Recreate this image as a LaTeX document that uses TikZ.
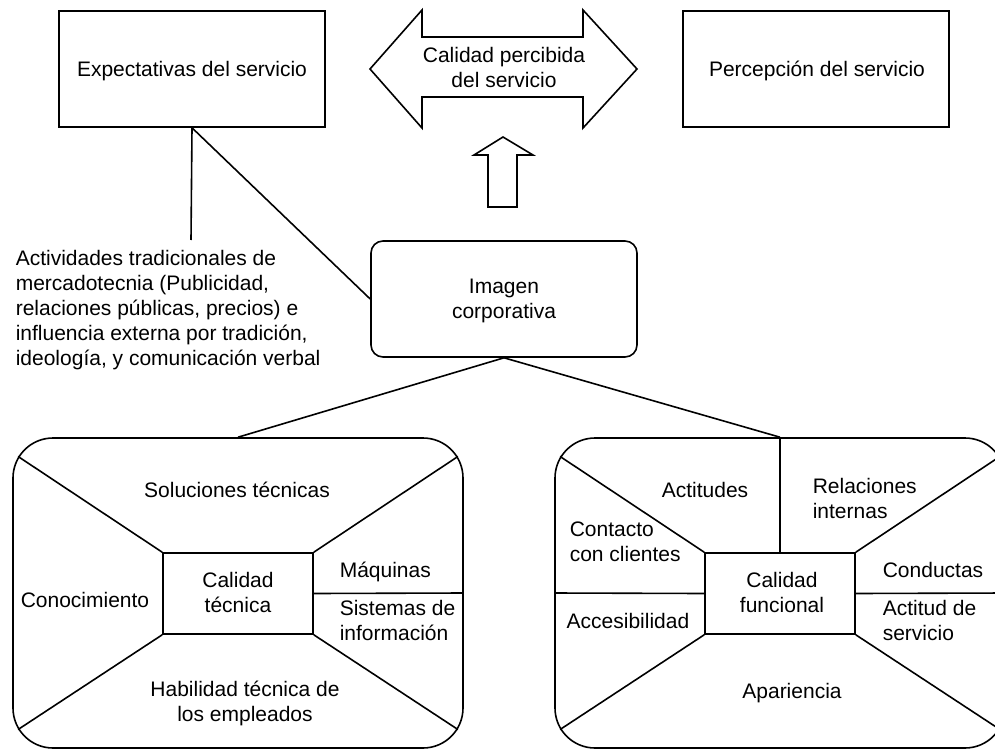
\documentclass[tikz,border=0pt]{standalone}
\usepackage{fontspec}
\setmainfont{Liberation Sans}
\begin{document}
\begin{tikzpicture}[x=1pt, y=-1pt, line width=1.6pt,
  txt/.style={font=\fontsize{21}{25}\selectfont, align=center, inner sep=0pt,
    execute at begin node=\strut, execute at end node=\strut},
  ltxt/.style={txt, align=left, anchor=west},
  plainbox/.style={draw, rectangle, inner sep=0pt, minimum width=266pt, minimum height=116pt},
  areabox/.style={draw, rectangle, rounded corners=40pt, inner sep=0pt, minimum width=450pt, minimum height=310pt},
  corebox/.style={draw, rectangle, inner sep=0pt, minimum width=150pt, minimum height=81pt}]
\useasboundingbox (0,0) rectangle (995,749);
\clip (0,0) rectangle (995,749);

% --- top row: expectations, perceived quality, perception ---
\node[plainbox] (exp) at (192,69) {};
\node[txt] (expT) at (192,72) {Expectativas del servicio};
\node[plainbox] (per) at (816,69) {};
\node[txt] (perT) at (817,72) {Percepción del servicio};

\draw (370,69) -- (422,10) -- (422,37) -- (583,37) -- (583,10) -- (637,69)
      -- (583,128) -- (583,97) -- (422,97) -- (422,128) -- cycle;
\node[txt] (cpT) at (504,71) {Calidad percibida\\del servicio};

% upward arrow from corporate image
\draw (503,137) -- (533,155) -- (517,155) -- (517,207) -- (488,207)
      -- (488,155) -- (474,155) -- cycle;

% --- corporate image ---
\node[draw, rectangle, rounded corners=12pt, inner sep=0pt,
      minimum width=266pt, minimum height=116pt] (img) at (504,299) {};
\node[txt] (imgT) at (504,303) {Imagen\\corporativa};

% --- external influences ---
\node[ltxt] (act) at (15,312) {Actividades tradicionales de\\mercadotecnia (Publicidad,\\relaciones públicas, precios) e\\influencia externa por tradición,\\ideología, y comunicación verbal};
\coordinate (actTop) at (191,240);
\draw (exp.south) -- (actTop);
\draw (exp.south) -- (img.west);

% --- technical quality ---
\node[areabox] (tech) at (238,593) {};
\node[corebox] (ctec) at (238,593.5) {};
\begin{scope}
  \clip[rounded corners=40pt] (tech.north west) rectangle (tech.south east);
  \draw (ctec.north west) -- ++(-280,-186);
  \draw (ctec.north east) -- ++(280,-186);
  \draw (ctec.south west) -- ++(-280,184);
  \draw (ctec.south east) -- ++(280,184);
\end{scope}
\draw (ctec.east) -- (tech.east);
\node[txt] (tSol) at (237,492) {Soluciones técnicas};
\node[txt] (tCon) at (85,602) {Conocimiento};
\node[txt] (tCal) at (238,596.5) {Calidad\\técnica};
\node[ltxt] (tMaq) at (339,572) {Máquinas};
\node[ltxt] (tSis) at (339,624.5) {Sistemas de\\información};
\node[txt] (tHab) at (245,705.5) {Habilidad técnica de\\los empleados};

% --- functional quality ---
\node[areabox] (func) at (780,593) {};
\node[corebox] (cfun) at (780,593.5) {};
\begin{scope}
  \clip[rounded corners=40pt] (func.north west) rectangle (func.south east);
  \draw (cfun.north west) -- ++(-280,-186);
  \draw (cfun.north east) -- ++(280,-186);
  \draw (cfun.south west) -- ++(-280,184);
  \draw (cfun.south east) -- ++(280,184);
\end{scope}
\draw (cfun.north) -- (func.north);
\draw (cfun.west) -- (func.west);
\draw (cfun.east) -- (func.east);
\node[txt] (fAct) at (705,492) {Actitudes};
\node[ltxt] (fRel) at (812,502.5) {Relaciones\\internas};
\node[ltxt] (fCon) at (569,545) {Contacto\\con clientes};
\node[txt] (fAcc) at (628,623.5) {Accesibilidad};
\node[txt] (fCal) at (782,596) {Calidad\\funcional};
\node[ltxt] (fCond) at (882,572) {Conductas};
\node[ltxt] (fSer) at (882,624.5) {Actitud de\\servicio};
\node[txt] (fApa) at (792,693) {Apariencia};

% --- links from corporate image to both quality dimensions ---
\draw (img.south) -- (tech.north);
\draw (img.south) -- (func.north);
\end{tikzpicture}
\end{document}
